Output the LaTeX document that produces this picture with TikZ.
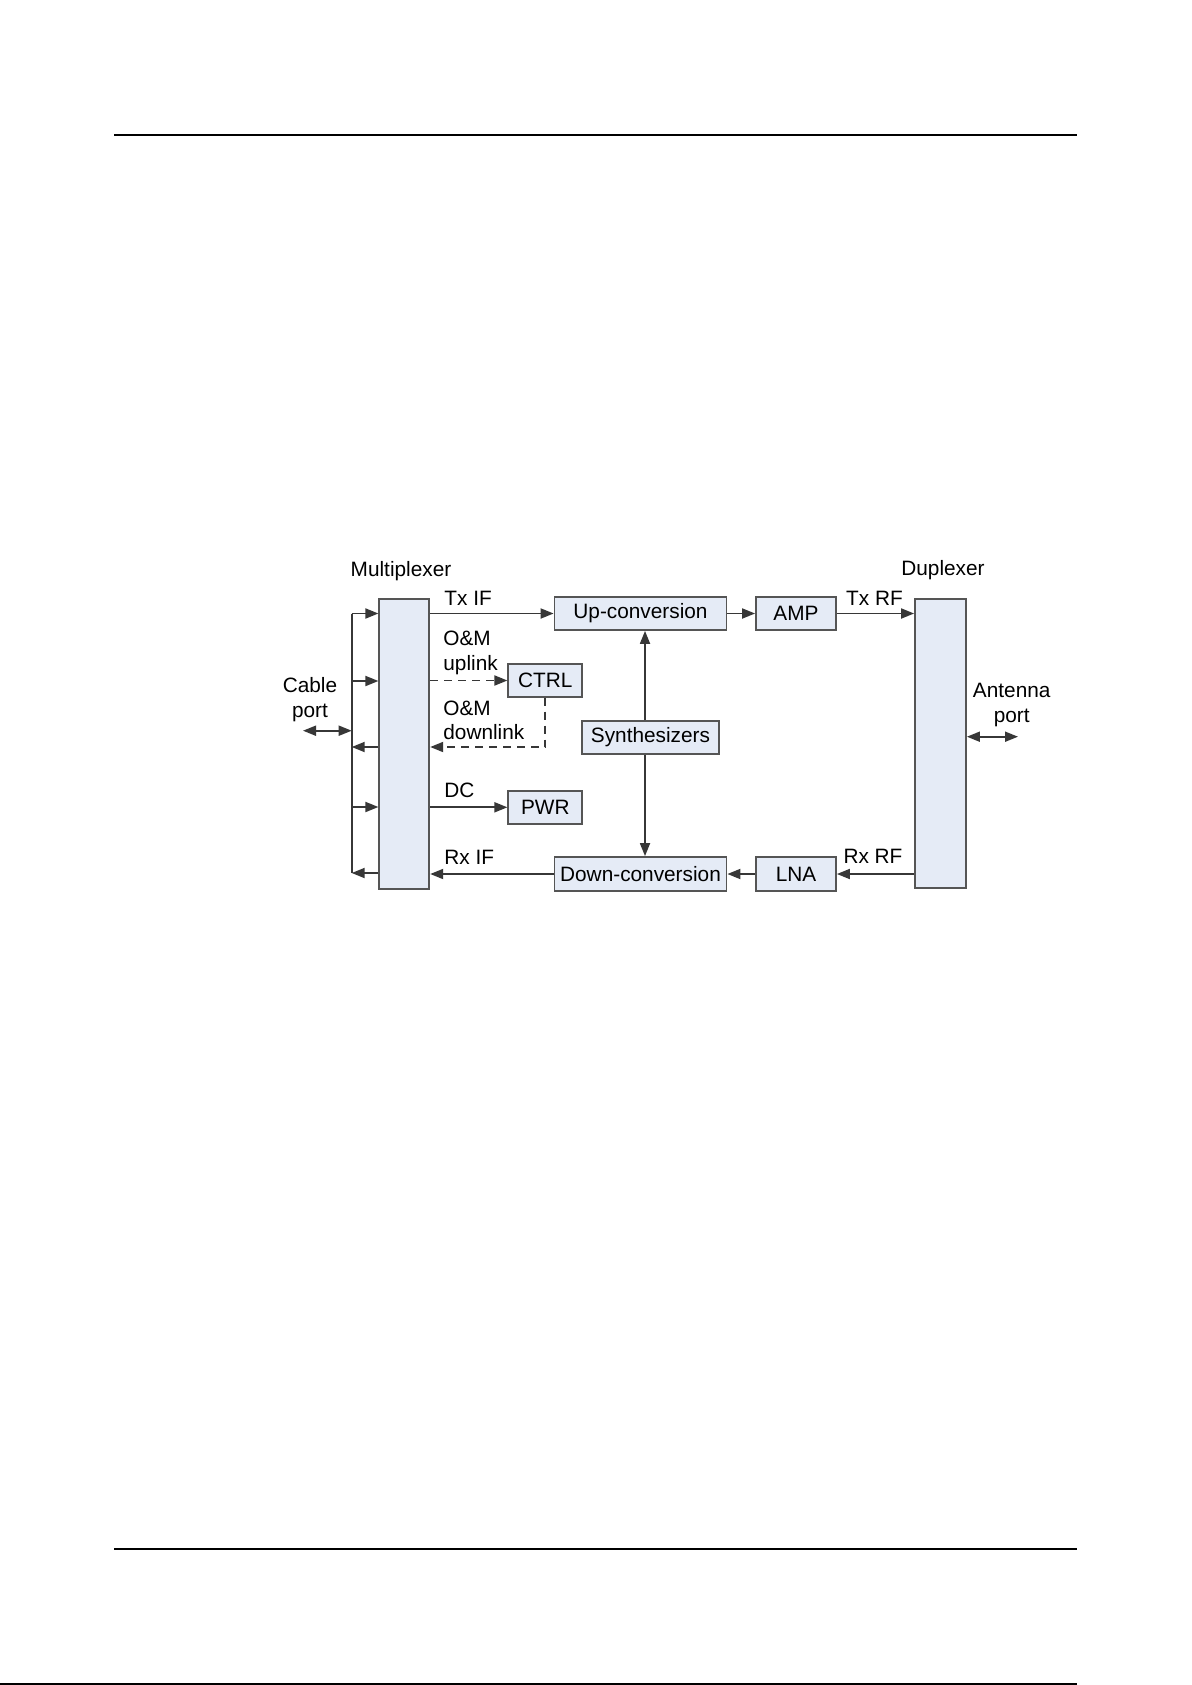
\documentclass[tikz,border=0pt]{standalone}
\usepackage{fontspec}
\setmainfont{Liberation Sans}
\usetikzlibrary{arrows.meta}
\definecolor{boxfill}{RGB}{229,235,246}
\definecolor{boxline}{RGB}{85,85,85}
\definecolor{wire}{RGB}{55,55,55}
\begin{document}
\begin{tikzpicture}[x=0.5pt,y=-0.5pt,
  font=\fontsize{10.4}{12.2}\selectfont,
  blk/.style={draw=boxline,fill=boxfill,line width=0.9pt,inner sep=0pt,rectangle},
  lbl/.style={inner sep=0pt,align=left,anchor=west},
  clbl/.style={inner sep=0pt,align=center},
  wireline/.style={draw=wire,line width=0.9pt},
  arr/.style={wireline,-{Triangle[length=6.5pt,width=5pt]}},
  darr/.style={wireline,{Triangle[length=6.5pt,width=5pt]}-{Triangle[length=6.5pt,width=5pt]}},
  dsh/.style={dash pattern=on 4pt off 3pt}]
\useasboundingbox (0,0) rectangle (1192,1685);
\fill[white] (0,0) rectangle (1192,1685);
% page rules
\coordinate (tl) at (114,135.5);
\coordinate (tr) at (1077,135.5);
\coordinate (bl) at (114,1548.5);
\coordinate (br) at (1077,1548.5);
\coordinate (el) at (0,1684);
\coordinate (er) at (1077,1684);
\draw[line width=1pt] (tl) -- (tr);
\draw[line width=1pt] (bl) -- (br);
\draw[line width=1.2pt] (el) -- (er);
% blocks
\node[blk,minimum width=25pt,minimum height=145pt] (mux) at (404.3,744) {};
\node[blk,minimum width=25.5pt,minimum height=144.5pt] (dup) at (940.5,743.5) {};
\node[blk,minimum width=86pt,minimum height=16.5pt] (up) at (640.5,613.5) {Up-conversion};
\node[blk,minimum width=40pt,minimum height=16.5pt] (amp) at (796,613.5) {AMP};
\node[blk,minimum width=86pt,minimum height=17pt] (down) at (640.5,874) {Down-conversion};
\node[blk,minimum width=40pt,minimum height=17pt] (lna) at (796,874) {LNA};
\node[blk,minimum width=68.8pt,minimum height=16.5pt] (syn) at (650.5,737.5) {Synthesizers};
\node[blk,minimum width=37pt,minimum height=16.2pt] (ctrl) at (545.3,680.5) {CTRL};
\node[blk,minimum width=37pt,minimum height=16.5pt] (pwr) at (545.3,807.3) {PWR};
% titles
\node[clbl] (muxt) at (401,570.7) {Multiplexer};
\node[clbl] (dupt) at (943,570) {Duplexer};
% signal labels
\node[lbl] (txif) at (444,598) {Tx IF};
\node[lbl] (omup) at (443,653) {O\&M\\uplink};
\node[lbl] (omdn) at (443,720.3) {O\&M\\downlink};
\node[lbl] (dc) at (444,790) {DC};
\node[lbl] (rxif) at (444,857) {Rx IF};
\node[clbl] (txrf) at (874.5,598) {Tx RF};
\node[clbl] (rxrf) at (873,856.7) {Rx RF};
\node[clbl] (cable) at (310,699.7) {Cable\\port};
\node[clbl] (ant) at (1011.7,705) {Antenna\\port};
% Tx chain
\draw[arr] (mux.east |- up.west) -- (up.west);
\draw[arr] (up.east) -- (amp.west);
\draw[arr] (amp.east) -- (dup.west |- amp.east);
% Rx chain
\draw[arr] (dup.west |- lna.east) -- (lna.east);
\draw[arr] (lna.west) -- (down.east);
\draw[arr] (down.west) -- (mux.east |- down.west);
% synthesizers
\coordinate (sx) at (645,737.5);
\draw[arr] (syn.north -| sx) -- (up.south -| sx);
\draw[arr] (syn.south -| sx) -- (down.north -| sx);
% O&M
\coordinate (dl) at (545.3,747);
\draw[arr,dsh] (mux.east |- ctrl.west) -- (ctrl.west);
\draw[arr,dsh] (ctrl.south) -- (dl) -- (mux.east |- dl);
% DC
\draw[arr] (mux.east |- pwr.west) -- (pwr.west);
% cable bus
\coordinate (b1) at (351.7,613.5);
\coordinate (b2) at (351.7,681);
\coordinate (b3) at (351.7,747);
\coordinate (b4) at (351.7,807);
\coordinate (b5) at (351.7,873);
\coordinate (bc) at (351.7,730.7);
\coordinate (cp) at (303,730.7);
\draw[wireline] (b1) -- (b5);
\draw[arr] (b1) -- (mux.west |- b1);
\draw[arr] (b2) -- (mux.west |- b2);
\draw[arr] (mux.west |- b3) -- (b3);
\draw[arr] (b4) -- (mux.west |- b4);
\draw[arr] (mux.west |- b5) -- (b5);
\draw[darr] (cp) -- (bc);
% antenna
\coordinate (ap) at (1018,736.7);
\draw[darr] (dup.east |- ap) -- (ap);
\end{tikzpicture}
\end{document}
